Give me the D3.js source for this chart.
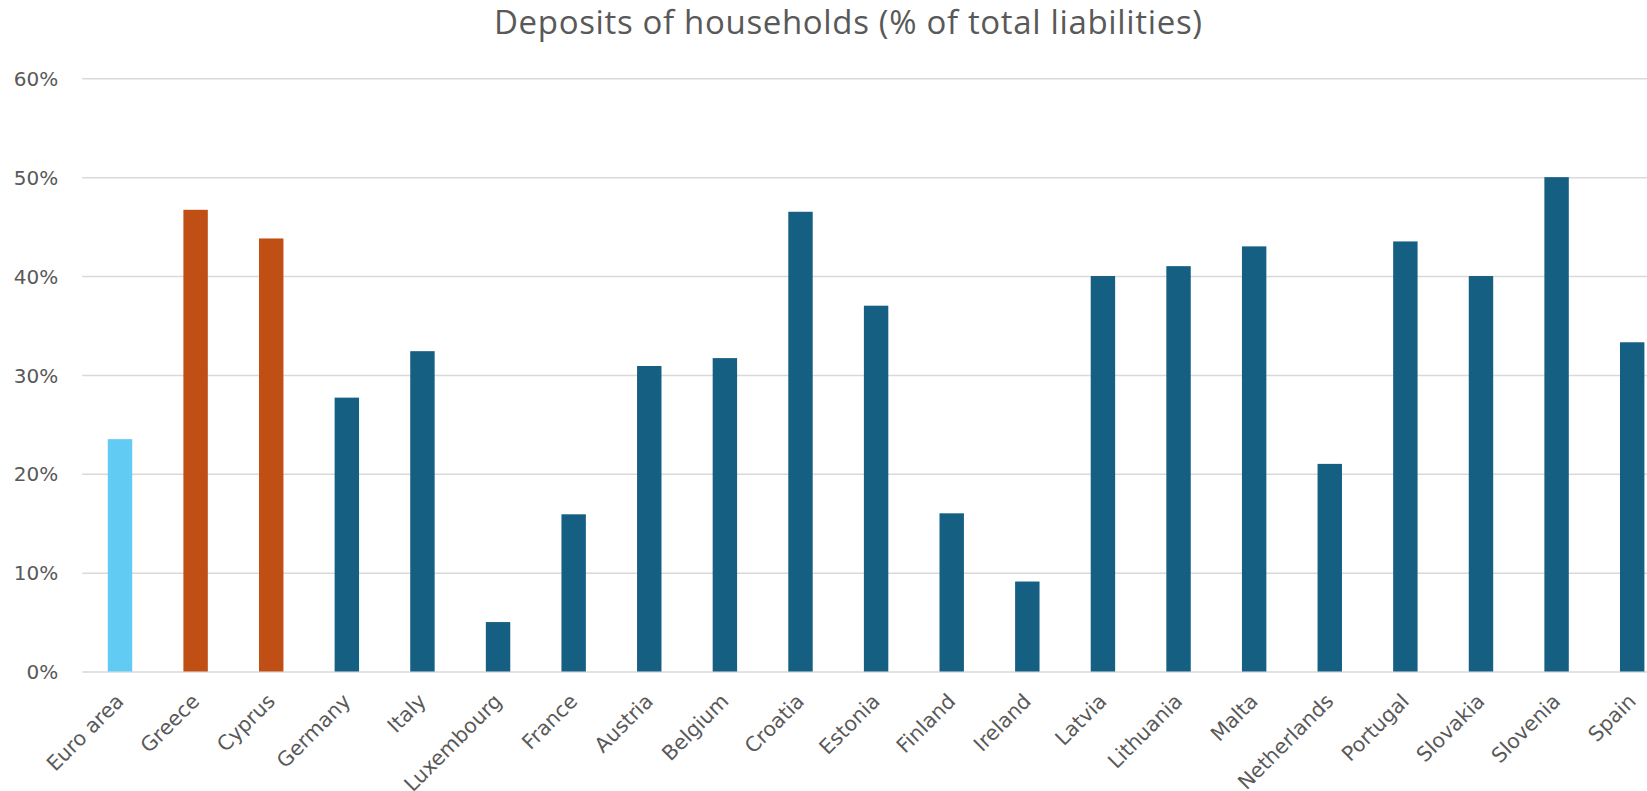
<!DOCTYPE html>
<html>
<head>
<meta charset="utf-8">
<script src="https://cdn.jsdelivr.net/npm/d3@7"></script>
<style>
  html, body { margin: 0; padding: 0; background: #ffffff; overflow: hidden; }
  svg { display: block; }
</style>
</head>
<body>
<svg id="chart" width="1647" height="791"></svg>
<script>
// Household deposits as a share of total liabilities, by country
const categories = ["Euro area", "Greece", "Cyprus", "Germany", "Italy", "Luxembourg", "France",
  "Austria", "Belgium", "Croatia", "Estonia", "Finland", "Ireland", "Latvia", "Lithuania",
  "Malta", "Netherlands", "Portugal", "Slovakia", "Slovenia", "Spain"];
const values = [23.5, 46.7, 43.8, 27.7, 32.4, 5.0, 15.9, 30.9, 31.7, 46.5, 37.0, 16.0, 9.1,
  40.0, 41.0, 43.0, 21.0, 43.5, 40.0, 50.0, 33.3];
// Colour group of each bar: aggregate, highlighted countries, other countries
const groups = ["aggregate", "highlight", "highlight", "other", "other", "other", "other",
  "other", "other", "other", "other", "other", "other", "other", "other", "other", "other",
  "other", "other", "other", "other"];
const yTicks = [0, 10, 20, 30, 40, 50, 60];
const title = "Deposits of households (% of total liabilities)";

const palette = { aggregate: "#61CBF3", highlight: "#C04F15", other: "#156082" };

const svg = d3.select("#chart");
// The category band runs a little past the right edge of the canvas
const plot = { left: 82.2, right: 1670, top: 78.3, bottom: 671.5 };

const x = d3.scaleBand()
  .domain(categories)
  .range([plot.left, plot.right])
  .paddingInner(0.677)
  .paddingOuter(0.3385);

const y = d3.scaleLinear()
  .domain([0, 60])
  .range([plot.bottom, plot.top]);

// Title
svg.append("text")
  .attr("x", 848)
  .attr("y", 33.5)
  .attr("text-anchor", "middle")
  .attr("font-family", "'Open Sans', Roboto, sans-serif")
  .attr("font-size", 33)
  .attr("textLength", 708)
  .attr("lengthAdjust", "spacing")
  .attr("fill", "#595959")
  .text(title);

// Horizontal gridlines and percentage labels
const yAxis = d3.axisLeft(y)
  .tickValues(yTicks)
  .tickSize(-(plot.right - plot.left))
  .tickPadding(24)
  .tickFormat(d => d + "%");

const gy = svg.append("g")
  .attr("transform", `translate(${plot.left},0)`)
  .call(yAxis);
gy.select(".domain").remove();
gy.selectAll(".tick line")
  .attr("stroke", "#d9d9d9")
  .attr("stroke-width", 1.5);
gy.selectAll(".tick text")
  .attr("font-family", "'DejaVu Sans', sans-serif")
  .attr("font-size", 20)
  .attr("fill", "#595959")
  .attr("dy", "0.36em");

// Bars
svg.append("g")
  .selectAll("rect")
  .data(categories.map((c, i) => ({ c, v: values[i], g: groups[i] })))
  .join("rect")
  .attr("x", d => x(d.c))
  .attr("width", x.bandwidth())
  .attr("y", d => y(d.v))
  .attr("height", d => y(0) - y(d.v))
  .attr("fill", d => palette[d.g]);

// Category labels, rotated 45 degrees
const xAxis = d3.axisBottom(x).tickSize(0).tickPadding(0);
const gx = svg.append("g")
  .attr("transform", `translate(0,${plot.bottom})`)
  .call(xAxis);
gx.select(".domain").remove();
gx.selectAll(".tick text")
  .attr("font-family", "'DejaVu Sans', sans-serif")
  .attr("font-size", 20.5)
  .attr("fill", "#595959")
  .attr("text-anchor", "end")
  .attr("dy", 0)
  .attr("transform", "translate(5,31) rotate(-45)");
</script>
</body>
</html>
